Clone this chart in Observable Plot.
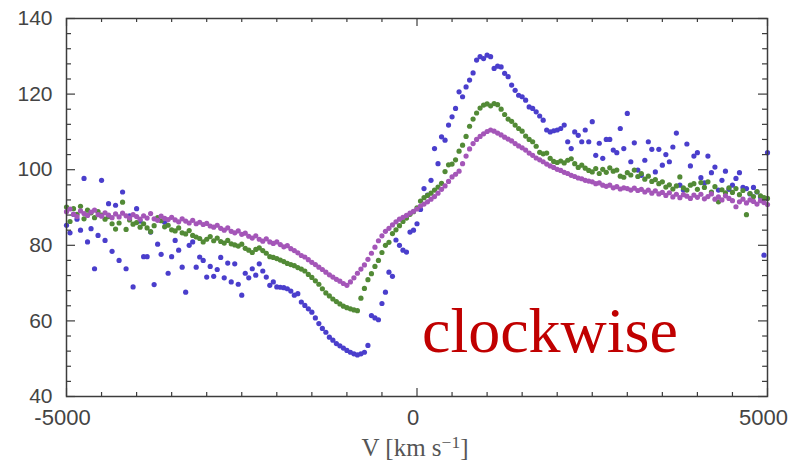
<!DOCTYPE html>
<html><head><meta charset="utf-8">
<script src="https://cdn.jsdelivr.net/npm/d3@7"></script>
<script src="https://cdn.jsdelivr.net/npm/@observablehq/plot@0.6"></script>
<style>body{margin:0;background:#fff;} #chart{width:792px;height:465px;}</style>
</head><body><div id="chart"></div>
<script>
const velocity = [
-5000,-4950,-4900,-4850,-4800,-4750,-4700,-4650,-4600,-4550,
-4500,-4450,-4400,-4350,-4300,-4250,-4200,-4150,-4100,-4050,
-4000,-3950,-3900,-3850,-3800,-3750,-3700,-3650,-3600,-3550,
-3500,-3450,-3400,-3350,-3300,-3250,-3200,-3150,-3100,-3050,
-3000,-2950,-2900,-2850,-2800,-2750,-2700,-2650,-2600,-2550,
-2500,-2450,-2400,-2350,-2300,-2250,-2200,-2150,-2100,-2050,
-2000,-1950,-1900,-1850,-1800,-1750,-1700,-1650,-1600,-1550,
-1500,-1450,-1400,-1350,-1300,-1250,-1200,-1150,-1100,-1050,
-1000,-950,-900,-850,-800,-750,-700,-650,-600,-550,
-500,-450,-400,-350,-300,-250,-200,-150,-100,-50,
0,50,100,150,200,250,300,350,400,450,
500,550,600,650,700,750,800,850,900,950,
1000,1050,1100,1150,1200,1250,1300,1350,1400,1450,
1500,1550,1600,1650,1700,1750,1800,1850,1900,1950,
2000,2050,2100,2150,2200,2250,2300,2350,2400,2450,
2500,2550,2600,2650,2700,2750,2800,2850,2900,2950,
3000,3050,3100,3150,3200,3250,3300,3350,3400,3450,
3500,3550,3600,3650,3700,3750,3800,3850,3900,3950,
4000,4050,4100,4150,4200,4250,4300,4350,4400,4450,
4500,4550,4600,4650,4700,4750,4800,4850,4900,4950,
5000];

const blueValues = [
85.3,83.3,88.2,86.9,84.0,97.7,80.9,84.4,73.8,82.6,
97.2,81.3,91.0,78.4,90.6,76.0,94.1,73.8,87.8,69.0,
89.7,86.4,77.0,77.0,83.5,69.6,80.3,77.6,86.1,72.6,
77.0,81.3,78.7,74.2,67.6,80.0,80.9,74.2,76.9,76.0,
71.6,74.4,71.8,73.6,76.8,71.4,75.3,70.3,75.1,69.7,
66.8,72.6,71.4,73.8,72.1,75.1,73.2,71.6,69.4,70.3,
69.0,68.9,68.8,68.5,67.9,66.8,67.2,65.0,64.1,63.2,
62.3,60.8,59.3,58.0,57.0,55.7,54.9,54.0,53.4,52.8,
52.2,51.7,51.3,51.0,51.3,51.7,53.5,61.4,60.8,60.3,
64.6,67.6,72.9,71.8,81.4,80.0,78.7,78.2,83.5,84.0,
85.7,89.5,95.0,93.3,97.2,105.6,101.6,108.7,107.8,111.8,
114.0,116.2,120.6,119.3,121.9,123.7,125.6,129.0,129.9,129.4,
130.3,129.9,126.8,127.4,127.2,125.5,124.6,122.4,121.0,119.7,
119.3,118.4,116.6,116.2,115.3,114.2,113.1,110.5,110.0,110.3,
110.5,110.9,111.8,107.4,105.6,110.0,109.1,107.4,110.5,107.4,
112.7,103.8,107.0,103.0,108.0,108.0,105.2,104.5,110.9,105.6,
114.9,102.1,107.1,99.9,98.5,102.5,107.4,105.4,99.4,105.4,
101.2,104.0,102.1,106.0,109.7,95.9,94.6,106.8,101.0,103.6,
104.5,97.9,96.5,103.6,99.2,100.7,94.6,97.2,99.6,94.8,
95.9,97.7,99.2,95.3,95.0,93.6,95.3,94.1,92.8,77.4,
104.5];

const greenValues = [
90.1,86.3,89.7,88.2,90.3,87.0,89.3,88.6,87.3,88.9,
88.0,86.9,87.6,85.7,84.3,85.9,91.4,84.2,86.7,85.6,
86.0,84.8,85.7,84.6,83.6,85.2,87.3,86.5,84.9,85.3,
84.1,83.8,84.6,83.3,83.0,83.9,82.6,82.2,81.8,80.9,
81.6,82.3,81.2,81.9,81.0,80.6,81.3,80.4,80.1,79.8,
80.3,79.2,78.7,78.1,78.9,79.3,78.6,77.9,77.0,76.8,
76.5,76.1,75.7,75.2,74.9,74.6,74.1,73.7,73.2,72.3,
71.5,70.6,69.7,68.5,67.4,66.6,65.8,65.1,64.5,63.9,
63.5,63.2,62.9,62.7,66.0,68.6,70.9,72.5,74.4,76.0,
78.1,80.0,80.8,83.1,84.1,85.2,86.3,87.2,88.2,88.9,
89.9,91.7,92.6,93.2,93.8,94.6,95.4,96.4,99.5,101.3,
101.5,102.6,104.9,106.5,108.8,111.5,113.4,115.0,116.3,117.1,
117.4,116.9,117.5,117.2,116.0,114.6,113.4,112.8,111.8,110.9,
110.2,108.9,108.0,107.4,106.2,104.6,104.2,104.4,103.0,102.2,
101.9,102.3,101.8,102.5,102.9,101.6,100.6,101.2,100.4,99.8,
99.4,100.3,99.0,100.1,99.3,100.5,99.6,99.9,98.3,98.0,
99.2,98.6,99.9,98.2,99.0,97.5,98.3,96.9,97.4,96.3,
96.8,95.4,96.0,94.9,95.7,98.1,95.2,94.6,95.9,96.3,
94.8,96.6,95.3,96.8,94.1,95.5,91.5,94.7,93.9,95.2,
94.0,95.0,93.4,94.5,88.1,93.7,92.9,94.2,93.1,92.6,
92.4];

const purpleValues = [
88.9,89.6,88.2,87.6,89.1,88.4,87.9,88.8,89.3,88.1,
87.7,88.6,88.0,87.3,88.3,87.5,88.5,87.8,87.2,88.1,
87.6,86.9,87.8,87.2,88.4,87.0,86.6,87.7,87.1,86.8,
87.4,86.7,86.2,87.0,86.4,85.9,86.6,85.7,86.1,85.5,
85.8,85.1,84.8,85.3,84.5,84.0,84.6,83.7,83.3,83.8,
82.9,83.2,82.4,81.9,82.5,81.6,81.1,81.7,80.9,80.5,
80.9,80.2,79.6,79.9,79.1,78.6,78.0,77.3,76.9,76.2,
75.5,74.9,74.2,73.6,72.9,72.2,71.6,71.0,70.5,69.9,
69.4,70.3,71.4,72.6,73.7,74.8,76.3,77.9,79.5,81.2,
82.5,83.7,84.5,85.4,86.2,86.9,87.4,87.9,88.5,89.0,
89.6,90.4,90.9,91.5,92.2,92.9,93.8,94.8,95.7,96.9,
98.1,98.8,99.6,101.6,103.6,105.5,106.9,108.0,108.8,109.5,
110.1,110.5,110.2,109.7,109.2,108.6,108.1,107.6,106.9,106.3,
105.8,105.2,104.4,103.8,103.1,102.6,102.1,101.5,101.0,100.6,
100.1,99.8,99.3,99.0,98.5,98.2,97.8,97.6,97.2,97.0,
96.8,96.3,96.5,95.9,95.6,95.9,95.2,95.5,94.9,95.2,
95.0,94.6,95.1,94.5,94.8,94.1,94.6,93.8,94.4,93.6,
94.0,93.2,93.9,92.8,93.5,92.6,93.4,93.0,92.4,93.3,
92.7,93.5,92.3,92.9,93.6,92.2,92.8,92.0,93.1,92.4,
91.8,90.2,91.5,92.2,91.2,92.0,91.6,90.9,91.8,91.3,
90.8];

const xMajorTicks = [-5000, 0, 5000];
const xMinorTicks = [-4500,-4000,-3500,-3000,-2500,-2000,-1500,-1000,-500,500,1000,1500,2000,2500,3000,3500,4000,4500];
const yMajorTicks = [40, 60, 80, 100, 120, 140];
const yMinorTicks = [44,48,52,56,64,68,72,76,84,88,92,96,104,108,112,116,124,128,132,136];
const annotation = ["clockwise"];
const xLabel = ["V [km s"];

const W = 792, H = 465;
const mL = 66, mR = 25, mT = 18, mB = 69;
const iW = W - mL - mR, iH = H - mT - mB;

const toRows = vals => velocity.map((v, i) => ({v, y: vals[i]}));
const blue = toRows(blueValues), green = toRows(greenValues), purple = toRows(purpleValues);

const axisColor = "#3c3c3c";
const chart = Plot.plot({
  width: W, height: H,
  marginLeft: mL, marginRight: mR, marginTop: mT, marginBottom: mB,
  style: {fontFamily: "'Liberation Sans', Arial, sans-serif", background: "#fff", overflow: "visible"},
  x: {domain: [-5000, 5000]},
  y: {domain: [40, 140]},
  marks: [
    Plot.dot(blue, {x: "v", y: "y", r: 2.6, fill: "#4a3ecc", stroke: "none"}),
    Plot.dot(green, {x: "v", y: "y", r: 2.6, fill: "#528a36", stroke: "none"}),
    Plot.dot(purple, {x: "v", y: "y", r: 2.6, fill: "#a456b8", stroke: "none"}),
    Plot.frame({stroke: axisColor, strokeWidth: 1.5}),
    Plot.tickX(xMinorTicks, {x: d => d, insetTop: iH - 4, stroke: axisColor, strokeWidth: 1.2}),
    Plot.tickX(xMinorTicks, {x: d => d, insetBottom: iH - 4, stroke: axisColor, strokeWidth: 1.2}),
    Plot.tickX(xMajorTicks, {x: d => d, insetTop: iH - 8, stroke: axisColor, strokeWidth: 1.2}),
    Plot.tickX(xMajorTicks, {x: d => d, insetBottom: iH - 8, stroke: axisColor, strokeWidth: 1.2}),
    Plot.tickY(yMinorTicks, {y: d => d, insetRight: iW - 5, stroke: axisColor, strokeWidth: 1.2}),
    Plot.tickY(yMinorTicks, {y: d => d, insetLeft: iW - 5, stroke: axisColor, strokeWidth: 1.2}),
    Plot.tickY(yMajorTicks, {y: d => d, insetRight: iW - 9, stroke: axisColor, strokeWidth: 1.2}),
    Plot.tickY(yMajorTicks, {y: d => d, insetLeft: iW - 9, stroke: axisColor, strokeWidth: 1.2}),
    Plot.axisX(xMajorTicks, {tickSize: 0, tickPadding: 13, fontSize: 22, fill: "#444", tickFormat: d => String(d), label: null, dx: -4}),
    Plot.axisY(yMajorTicks, {tickSize: 0, tickPadding: 14, fontSize: 21, fill: "#444", tickFormat: d => String(d), label: null}),
    Plot.text(annotation, {frameAnchor: "bottom", textAnchor: "start", lineAnchor: "bottom", dx: 5, dy: -45,
      fontSize: 64, fontFamily: "'Liberation Serif', 'Times New Roman', serif", fill: "#c00000"}),
    Plot.text(xLabel, {frameAnchor: "bottom", lineAnchor: "bottom", dy: 59, dx: -2, className: "xlabel",
      fontSize: 25, fontFamily: "'Liberation Serif', 'Times New Roman', serif", fill: "#555"})
  ]
});
document.getElementById("chart").appendChild(chart);
// superscript on the axis label
const t = d3.select(chart).select(".xlabel text");
if (!t.empty()) {
  const base = t.text();
  t.text(null);
  t.append("tspan").text(base);
  t.append("tspan").attr("dy", "-0.45em").attr("font-size", "0.7em").text("\u22121");
  t.append("tspan").attr("dy", "0.315em").text("]");
}
</script>
</body></html>
